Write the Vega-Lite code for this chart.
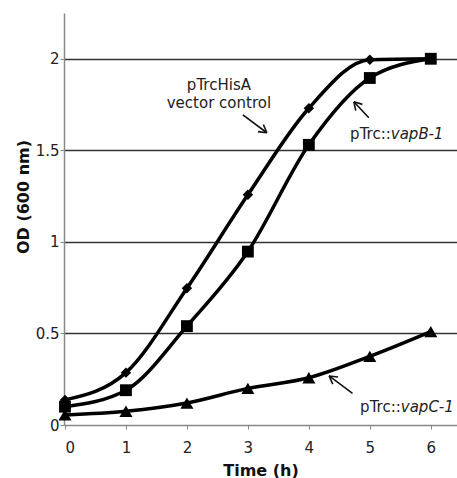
{
  "$schema": "https://vega.github.io/schema/vega-lite/v6.json",
  "autosize": {"type": "none"},
  "padding": {"left": 64, "top": 13, "right": 0, "bottom": 53},
  "width": 393,
  "height": 412,
  "config": {
    "view": {"stroke": null},
    "font": "DejaVu Sans"
  },
  "datasets": {
    "growth": [
      {"series": "pTrcHisA vector control", "t": 0, "od": 0.137},
      {"series": "pTrcHisA vector control", "t": 1, "od": 0.286},
      {"series": "pTrcHisA vector control", "t": 2, "od": 0.747},
      {"series": "pTrcHisA vector control", "t": 3, "od": 1.257},
      {"series": "pTrcHisA vector control", "t": 4, "od": 1.73},
      {"series": "pTrcHisA vector control", "t": 5, "od": 1.995},
      {"series": "pTrcHisA vector control", "t": 6, "od": 2.0},
      {"series": "pTrc::vapB-1", "t": 0, "od": 0.1},
      {"series": "pTrc::vapB-1", "t": 1, "od": 0.19},
      {"series": "pTrc::vapB-1", "t": 2, "od": 0.54},
      {"series": "pTrc::vapB-1", "t": 3, "od": 0.947},
      {"series": "pTrc::vapB-1", "t": 4, "od": 1.53},
      {"series": "pTrc::vapB-1", "t": 5, "od": 1.895},
      {"series": "pTrc::vapB-1", "t": 6, "od": 2.0},
      {"series": "pTrc::vapC-1", "t": 0, "od": 0.055},
      {"series": "pTrc::vapC-1", "t": 1, "od": 0.075},
      {"series": "pTrc::vapC-1", "t": 2, "od": 0.12},
      {"series": "pTrc::vapC-1", "t": 3, "od": 0.2},
      {"series": "pTrc::vapC-1", "t": 4, "od": 0.258},
      {"series": "pTrc::vapC-1", "t": 5, "od": 0.375},
      {"series": "pTrc::vapC-1", "t": 6, "od": 0.51}
    ],
    "arrows": [
      {"x": 2.918, "y": 1.694, "x2": 3.311, "y2": 1.596},
      {"x": 3.311, "y": 1.596, "x2": 3.254, "y2": 1.641},
      {"x": 3.311, "y": 1.596, "x2": 3.166, "y2": 1.602},
      {"x": 4.984, "y": 1.678, "x2": 4.738, "y2": 1.765},
      {"x": 4.738, "y": 1.765, "x2": 4.770, "y2": 1.717},
      {"x": 4.738, "y": 1.765, "x2": 4.879, "y2": 1.751},
      {"x": 4.716, "y": 0.173, "x2": 4.333, "y2": 0.268},
      {"x": 4.333, "y": 0.268, "x2": 4.392, "y2": 0.223},
      {"x": 4.333, "y": 0.268, "x2": 4.479, "y2": 0.262}
    ]
  },
  "encoding": {
    "x": {
      "field": "t", "type": "quantitative",
      "scale": {"domain": [-0.016, 6.43], "nice": false, "zero": false},
      "axis": {
        "values": [0, 1, 2, 3, 4, 5, 6],
        "grid": false,
        "domainColor": "#888", "domainWidth": 1.5,
        "tickColor": "#888", "tickSize": 4, "tickWidth": 1,
        "labelPadding": 11, "labelFontSize": 15, "labelColor": "#222", "labelFont": "DejaVu Sans",
        "title": "Time (h)", "titleFont": "DejaVu Sans", "titleFontSize": 16, "titleFontWeight": "bold",
        "titleColor": "#111", "titleBaseline": "alphabetic", "titleY": 50
      }
    },
    "y": {
      "field": "od", "type": "quantitative",
      "scale": {"domain": [0, 2.25], "nice": false},
      "axis": {
        "values": [0, 0.5, 1, 1.5, 2],
        "format": "~g",
        "grid": true,
        "gridColor": {"condition": {"test": "datum.value === 0", "value": "transparent"}, "value": "#333"},
        "gridWidth": 1.5,
        "domainColor": "#888", "domainWidth": 1.5,
        "tickColor": "#888", "tickSize": 4, "tickWidth": 1,
        "labelPadding": 1, "labelFontSize": 15, "labelColor": "#222", "labelFont": "DejaVu Sans",
        "title": "OD (600 nm)", "titleFont": "DejaVu Sans", "titleFontSize": 16, "titleFontWeight": "bold",
        "titleColor": "#111", "titleX": -33, "titleY": 183.5
      }
    }
  },
  "layer": [
    {
      "mark": {"type": "rule", "color": "#888", "strokeWidth": 1.5},
      "encoding": {"y": {"datum": 2.25}, "x": {"datum": -0.016}, "x2": {"datum": 6.43}}
    },
    {
      "data": {"name": "growth"},
      "mark": {"type": "line", "color": "#000", "strokeWidth": 3.5, "interpolate": "monotone"},
      "encoding": {"detail": {"field": "series"}}
    },
    {
      "data": {"name": "growth"},
      "mark": {"type": "point", "filled": true, "color": "#000", "opacity": 1},
      "encoding": {
        "shape": {
          "field": "series", "type": "nominal",
          "scale": {"domain": ["pTrcHisA vector control", "pTrc::vapB-1", "pTrc::vapC-1"], "range": ["diamond", "square", "triangle-up"]},
          "legend": null
        },
        "size": {
          "field": "series", "type": "nominal",
          "scale": {"domain": ["pTrcHisA vector control", "pTrc::vapB-1", "pTrc::vapC-1"], "range": [110, 170, 140]},
          "legend": null
        }
      }
    },
    {
      "data": {"name": "arrows"},
      "mark": {"type": "rule", "color": "#111", "strokeWidth": 1.6},
      "encoding": {
        "x": {"field": "x", "type": "quantitative"},
        "y": {"field": "y", "type": "quantitative"},
        "x2": {"field": "x2"},
        "y2": {"field": "y2"}
      }
    },
    {
      "data": {"values": [
        {"x": 2.525, "y": 1.856, "label": "pTrcHisA"},
        {"x": 2.525, "y": 1.758, "label": "vector control"}
      ]},
      "mark": {"type": "text", "align": "center", "baseline": "middle", "font": "DejaVu Sans", "fontSize": 15, "color": "#222"},
      "encoding": {
        "x": {"field": "x", "type": "quantitative"},
        "y": {"field": "y", "type": "quantitative"},
        "text": {"field": "label"}
      }
    },
    {
      "data": {"values": [
        {"x": 5.344, "y": 1.59, "label": "pTrc::"},
        {"x": 5.508, "y": 0.098, "label": "pTrc::"}
      ]},
      "mark": {"type": "text", "align": "right", "baseline": "middle", "font": "DejaVu Sans", "fontSize": 15, "color": "#222"},
      "encoding": {
        "x": {"field": "x", "type": "quantitative"},
        "y": {"field": "y", "type": "quantitative"},
        "text": {"field": "label"}
      }
    },
    {
      "data": {"values": [
        {"x": 5.344, "y": 1.59, "label": "vapB-1"},
        {"x": 5.508, "y": 0.098, "label": "vapC-1"}
      ]},
      "mark": {"type": "text", "align": "left", "baseline": "middle", "font": "DejaVu Sans", "fontSize": 15, "fontStyle": "italic", "color": "#222"},
      "encoding": {
        "x": {"field": "x", "type": "quantitative"},
        "y": {"field": "y", "type": "quantitative"},
        "text": {"field": "label"}
      }
    }
  ]
}
